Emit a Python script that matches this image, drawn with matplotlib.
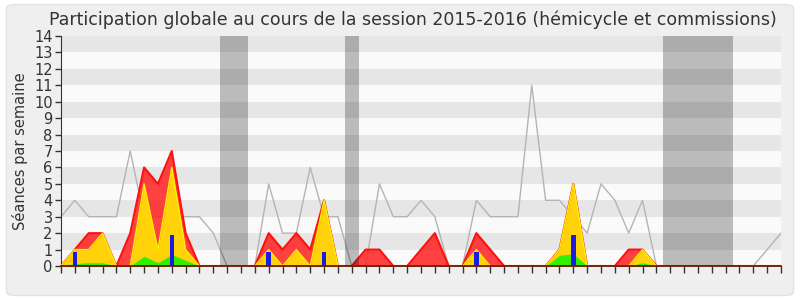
import matplotlib
matplotlib.use("Agg")
import matplotlib.pyplot as plt
import numpy as np
from matplotlib.patches import FancyBboxPatch

weeks = np.arange(53)

seances_total = [3, 4, 3, 3, 3, 7, 3, 3, 3, 3, 3, 2, 0, 0, 0, 5, 2, 2, 6, 3,
                 3, 0, 0, 5, 3, 3, 4, 3, 0, 0, 4, 3, 3, 3, 11, 4, 4, 3, 2, 5,
                 4, 2, 4, 0, 0, 0, 0, 0, 0, 0, 0, 1, 2]

presence_red = [0, 1, 2, 2, 0, 2, 6, 5, 7, 2, 0, 0, 0, 0, 0, 2, 1, 2, 1, 4,
                0, 0, 1, 1, 0, 0, 1, 2, 0, 0, 2, 1, 0, 0, 0, 0, 1, 5, 0, 0,
                0, 1, 1, 0, 0, 0, 0, 0, 0, 0, 0, 0, 0]

presence_yellow = [0, 1, 1, 2, 0, 0, 5, 1, 6, 1, 0, 0, 0, 0, 0, 1, 0, 1, 0, 4,
                   0, 0, 0, 0, 0, 0, 0, 0, 0, 0, 1, 0, 0, 0, 0, 0, 1, 5, 0, 0,
                   0, 0, 1, 0, 0, 0, 0, 0, 0, 0, 0, 0, 0]

presence_green = [0, 0.15, 0.2, 0.2, 0, 0, 0.6, 0.2, 0.7, 0.35, 0, 0, 0, 0, 0, 0, 0, 0.1, 0, 0.1,
                  0, 0, 0, 0, 0, 0, 0, 0, 0, 0, 0, 0, 0, 0, 0, 0, 0.65, 0.75, 0, 0,
                  0, 0, 0.2, 0, 0, 0, 0, 0, 0, 0, 0, 0, 0]

bar_weeks = [1, 8, 15, 19, 30, 37]
bar_values = [0.85, 1.9, 0.85, 0.85, 0.85, 1.9]

vacances = [(11.5, 13.5), (20.5, 21.5), (43.5, 48.5)]

month_labels = ["Oct", "Nov", "Déc", "Jan 16", "Fév", "Mar", "Avr", "Mai", "Juin", "Juil", "Août", "Sept"]
month_pos = [1, 6, 11, 15, 18, 22, 27, 31, 36, 40, 45, 50]

fig = plt.figure(figsize=(8, 3), dpi=100)
fig.patch.set_facecolor("white")
bg = FancyBboxPatch((0.008, 0.015), 0.984, 0.97, boxstyle="round,pad=0,rounding_size=0.012",
                    transform=fig.transFigure, facecolor="#efefef", edgecolor="#e2e2e2",
                    linewidth=1.0, zorder=-10)
fig.patches.append(bg)

ax = fig.add_axes([0.07625, 0.1133, 0.9, 0.7667])
ax.set_facecolor("#fafafa")
for k in range(1, 14, 2):
    ax.axhspan(k, k + 1, color="#e6e6e6", zorder=0, lw=0)

ax.plot(weeks, seances_total, color="#b4b4b4", lw=1.0, zorder=1)

ax.fill_between(weeks, presence_red, 0, color="#ff2020", alpha=0.85, lw=0, zorder=2)
ax.plot(weeks, presence_red, color="#ff1010", lw=1.5, zorder=2.1)
ax.fill_between(weeks, presence_yellow, 0, color="#ffd20a", lw=0, zorder=3)
ax.plot(weeks, presence_yellow, color="#ffee00", lw=1.0, zorder=3.1)
ax.fill_between(weeks, presence_green, 0, color="#33ee00", lw=0, zorder=4)
ax.bar(bar_weeks, bar_values, width=0.32, color="#1c1cdc", zorder=5)

for a, b in vacances:
    ax.axvspan(a, b, color="black", alpha=0.25, lw=0, zorder=6)

ax.set_xlim(0, 52)
ax.set_ylim(0, 14)
ax.set_yticks(range(0, 15))
ax.tick_params(axis="y", labelsize=10.5, colors="#333333", length=4, width=1, pad=2)
ax.set_xticks(range(0, 53))
ax.set_xticklabels([])
ax.set_xticks(month_pos, minor=True)
ax.set_xticklabels(month_labels, minor=True)
ax.tick_params(axis="x", which="major", length=5, width=1, color="#333333")
ax.tick_params(axis="x", which="minor", length=0, labelsize=10.5, labelcolor="#333333", pad=2)

for s in ["top", "right"]:
    ax.spines[s].set_visible(False)
ax.spines["left"].set_color("#333333")
ax.spines["bottom"].set_color("#6a1a00")
ax.spines["bottom"].set_linewidth(1.3)
ax.spines["bottom"].set_zorder(7)

ax.set_ylabel("Séances par semaine", fontsize=10.5, color="#333333", labelpad=4)
fig.suptitle("Participation globale au cours de la session 2015-2016 (hémicycle et commissions)",
             fontsize=12.5, color="#333333", x=0.516, y=0.965)

fig.savefig("out.png", dpi=100, facecolor=fig.get_facecolor())
